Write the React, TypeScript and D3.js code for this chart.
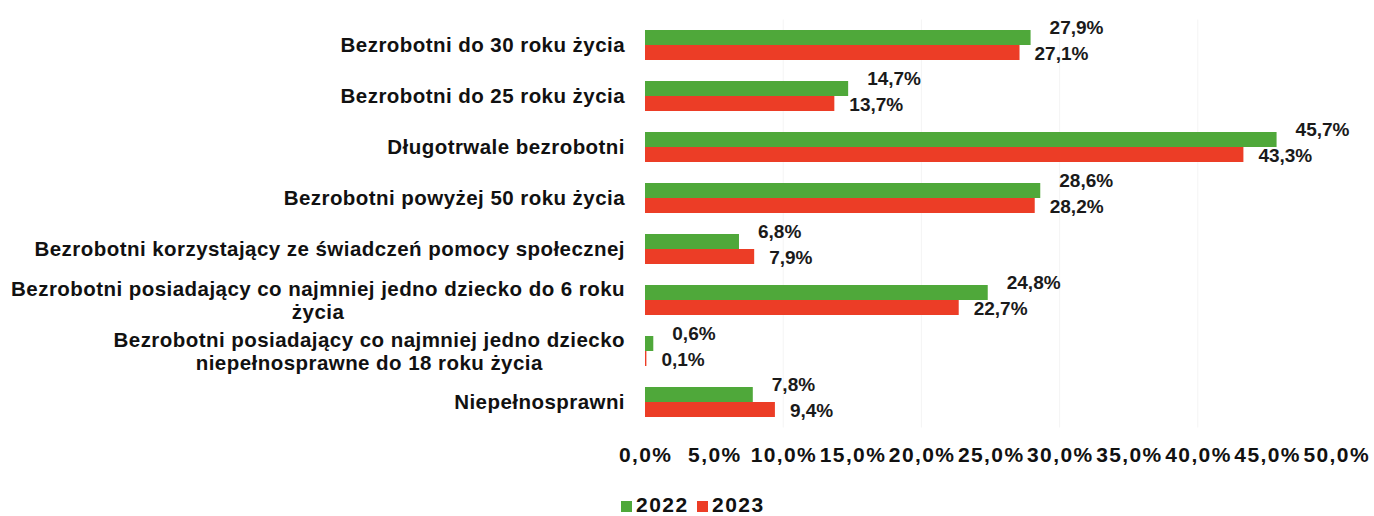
import * as d3 from 'd3';
import { useEffect, useRef } from 'react';

const categories = [
    ['Bezrobotni do 30 roku życia'],
    ['Bezrobotni do 25 roku życia'],
    ['Długotrwale bezrobotni'],
    ['Bezrobotni powyżej 50 roku życia'],
    ['Bezrobotni korzystający ze świadczeń pomocy społecznej'],
    ['Bezrobotni posiadający co najmniej jedno dziecko do 6 roku', 'życia'],
    ['Bezrobotni posiadający co najmniej jedno dziecko', 'niepełnosprawne do 18 roku życia'],
    ['Niepełnosprawni'],
];
const years = ['2022', '2023'];
const values2022 = [27.9, 14.7, 45.7, 28.6, 6.8, 24.8, 0.6, 7.8];
const values2023 = [27.1, 13.7, 43.3, 28.2, 7.9, 22.7, 0.1, 9.4];
const ticks = [0, 5, 10, 15, 20, 25, 30, 35, 40, 45, 50];

const colors = ['#4fa83a', '#ec3d26'];
const font = '"Liberation Sans", Arial, sans-serif';

const width = 1374;
const height = 516;
const margin = { top: 19.5, left: 645, right: 38, bottom: 88.5 };

const fmt = (v: number) => v.toFixed(1).replace('.', ',') + '%';

function App() {
    const ref = useRef<SVGSVGElement>(null);

    useEffect(() => {
        const svg = d3.select(ref.current);
        svg.selectAll('*').remove();

        const keys = categories.map((c, i) => String(i));
        const x = d3.scaleLinear().domain([0, 50]).range([margin.left, width - margin.right]);
        const y = d3.scaleBand().domain(keys).range([margin.top, height - margin.bottom]).paddingInner(0.412).paddingOuter(0.206);
        const ySub = d3.scaleBand().domain(years).range([0, y.bandwidth()]);

        // faint gridlines
        svg.append('g').selectAll('line').data([10, 20, 30, 40]).enter().append('line')
            .attr('x1', d => x(d)).attr('x2', d => x(d))
            .attr('y1', margin.top).attr('y2', height - margin.bottom)
            .attr('stroke', '#f4f4f4').attr('stroke-width', 1);

        const rows = categories.map((c, i) => ({ key: String(i), lines: c, vals: [values2022[i], values2023[i]] }));

        const g = svg.append('g').selectAll('g').data(rows).enter().append('g')
            .attr('transform', d => `translate(0,${y(d.key)})`);

        g.selectAll('rect').data(d => d.vals).enter().append('rect')
            .attr('x', x(0))
            .attr('y', (v, j) => ySub(years[j])!)
            .attr('width', v => x(v) - x(0))
            .attr('height', ySub.bandwidth())
            .attr('fill', (v, j) => colors[j]);

        g.selectAll('text.val').data(d => d.vals).enter().append('text')
            .attr('class', 'val')
            .attr('x', (v, j) => x(v) + (j === 0 ? 19 : 15))
            .attr('y', (v, j) => ySub(years[j])! + ySub.bandwidth() / 2 + (j === 0 ? -10 : 1))
            .attr('dy', '0.35em')
            .attr('font-family', font).attr('font-weight', 'bold').attr('font-size', 19)
            .attr('fill', '#1a1a1a')
            .text(v => fmt(v));

        // category labels
        const lab = g.append('text')
            .attr('font-family', font).attr('font-weight', 'bold').attr('font-size', 20.5)
            .attr('letter-spacing', 0.45)
            .attr('fill', '#111')
            .attr('text-anchor', 'middle');
        lab.each(function (d) {
            const t = d3.select(this);
            const n = d.lines.length;
            // measure first line to right-align the block
            const tmp = t.append('tspan').text(d.lines[0]);
            const w = (tmp.node() as SVGTSpanElement).getComputedTextLength();
            tmp.remove();
            const cx = x(0) - 20 - w / 2;
            d.lines.forEach((line, k) => {
                t.append('tspan')
                    .attr('x', cx)
                    .attr('y', y.bandwidth() / 2 + (k - (n - 1) / 2) * 23)
                    .attr('dy', '0.35em')
                    .text(line);
            });
        });

        // x axis tick labels
        svg.append('g').selectAll('text').data(ticks).enter().append('text')
            .attr('x', d => x(d) + 0.7)
            .attr('y', 455)
            .attr('dy', '0.35em')
            .attr('text-anchor', 'middle')
            .attr('font-family', font).attr('font-weight', 'bold').attr('font-size', 21)
            .attr('letter-spacing', 1.4)
            .attr('fill', '#111')
            .text(d => fmt(d));

        // legend
        const leg = svg.append('g').selectAll('g').data(years).enter().append('g')
            .attr('transform', (d, i) => `translate(${621 + i * 76},0)`);
        leg.append('rect').attr('x', 0).attr('y', 501).attr('width', 11).attr('height', 11)
            .attr('fill', (d, i) => colors[i]);
        leg.append('text').attr('x', 15).attr('y', 505).attr('dy', '0.35em')
            .attr('font-family', font).attr('font-weight', 'bold').attr('font-size', 21)
            .attr('letter-spacing', 1.5)
            .attr('fill', '#111')
            .text(d => d);
    }, []);

    return <svg ref={ref} width={width} height={height} style={{ position: 'absolute', left: 0, top: 0, background: '#fff' }} />;
}

export default App;
